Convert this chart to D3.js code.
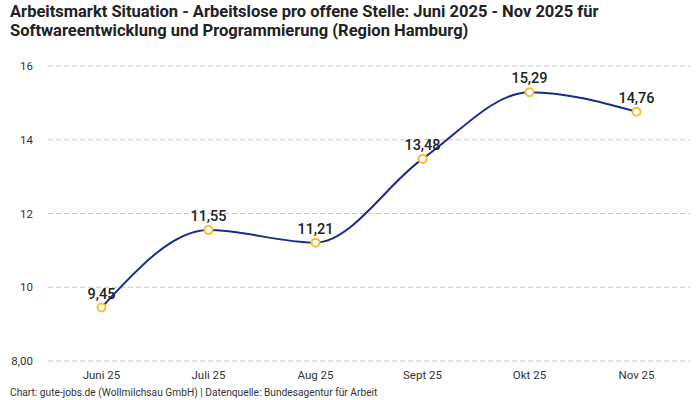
<!DOCTYPE html>
<html>
<head>
<meta charset="utf-8">
<script src="https://cdn.jsdelivr.net/npm/d3@7"></script>
<style>
  body { margin: 0; background: #fff; }
  svg text { font-family: Roboto, "Noto Sans", sans-serif; }
</style>
</head>
<body>
<div id="chart"></div>
<script>
var months = ["Juni 25", "Juli 25", "Aug 25", "Sept 25", "Okt 25", "Nov 25"];
var values = [9.45, 11.55, 11.21, 13.48, 15.29, 14.76];
var yTicks = [8, 10, 12, 14, 16];
var yTickLabels = ["8,00", "10", "12", "14", "16"];
var titleLines = [
    "Arbeitsmarkt Situation - Arbeitslose pro offene Stelle: Juni 2025 - Nov 2025 für",
    "Softwareentwicklung und Programmierung (Region Hamburg)"
];
var footer = "Chart: gute-jobs.de (Wollmilchsau GmbH) | Datenquelle: Bundesagentur für Arbeit";

var W = 700, H = 400;
var margin = {top: 66, right: 10, bottom: 39, left: 48},
    width = W - margin.left - margin.right,
    height = H - margin.top - margin.bottom;

var root = d3.select("#chart").append("svg")
    .attr("width", W)
    .attr("height", H);

root.selectAll(".title")
    .data(titleLines)
    .enter().append("text")
    .attr("class", "title")
    .attr("x", 10)
    .attr("y", (d, i) => 17 + i * 19)
    .attr("font-size", 16.5)
    .attr("font-weight", "bold")
    .attr("fill", "#222")
    .text(d => d);

root.append("text")
    .attr("x", 10)
    .attr("y", 396)
    .attr("font-size", 10.2)
    .attr("fill", "#333")
    .text(footer);

var svg = root.append("g")
    .attr("transform", "translate(" + margin.left + "," + margin.top + ")");

var x = d3.scaleBand().domain(months).range([0, width]);
var y = d3.scaleLinear().domain([8, 16]).range([height, 0]);

// grid
svg.selectAll(".grid")
    .data(yTicks)
    .enter().append("line")
    .attr("class", "grid")
    .attr("x1", 0)
    .attr("x2", width)
    .attr("y1", d => y(d))
    .attr("y2", d => y(d))
    .attr("stroke", "#c8c8c8")
    .attr("stroke-dasharray", "5,3");

var yAxis = d3.axisLeft(y)
    .tickValues(yTicks)
    .tickFormat((d, i) => yTickLabels[i])
    .tickSize(0)
    .tickPadding(15);

svg.append("g")
    .attr("class", "y axis")
    .call(yAxis)
    .call(g => g.select(".domain").remove())
    .selectAll("text")
    .attr("font-size", 11.5)
    .attr("fill", "#333");

var xAxis = d3.axisBottom(x).tickSize(0).tickPadding(10);

svg.append("g")
    .attr("class", "x axis")
    .attr("transform", "translate(0," + height + ")")
    .call(xAxis)
    .call(g => g.select(".domain").remove())
    .selectAll("text")
    .attr("font-size", 11.5)
    .attr("fill", "#333");

var cx = (d, i) => x(months[i]) + x.bandwidth() / 2;

var line = d3.line()
    .x(cx)
    .y(d => y(d))
    .curve(d3.curveMonotoneX);

svg.append("path")
    .datum(values)
    .attr("d", line)
    .attr("fill", "none")
    .attr("stroke", "#1c2a8a")
    .attr("stroke-width", 2);

svg.selectAll(".point")
    .data(values)
    .enter().append("circle")
    .attr("class", "point")
    .attr("cx", cx)
    .attr("cy", d => y(d))
    .attr("r", 4)
    .attr("fill", "#fff")
    .attr("stroke", "#f5c12a")
    .attr("stroke-width", 2);

svg.selectAll(".label")
    .data(values)
    .enter().append("text")
    .attr("class", "label")
    .attr("x", cx)
    .attr("y", d => y(d) - 9)
    .attr("text-anchor", "middle")
    .attr("font-size", 14.5)
    .attr("font-weight", 500)
    .attr("fill", "#222")
    .text(d => d3.format(".2f")(d).replace(".", ","));
</script>
</body>
</html>
